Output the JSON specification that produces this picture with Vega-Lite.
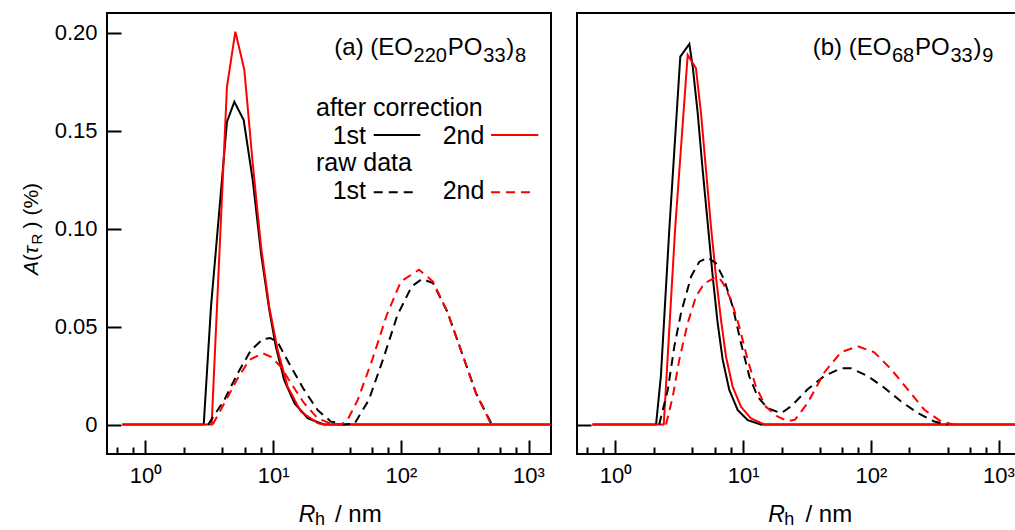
{
  "$schema": "https://vega.github.io/schema/vega-lite/v6.json",
  "padding": {"left": 20, "top": 12, "right": 0, "bottom": 0},
  "bounds": "flush",
  "spacing": 26,
  "config": {
    "font": "Liberation Sans",
    "view": {"stroke": "#000000", "strokeWidth": 2},
    "axis": {"grid": false, "domain": false, "tickColor": "#000000", "tickWidth": 2, "labelColor": "#000000", "labelFont": "Liberation Sans", "labelFontSize": 22, "title": null}
  },
  "datasets": {
    "curves": [
      {"p":"a","s":"s1","x":0.66,"y":0},{"p":"a","s":"s1","x":2.86,"y":0},{"p":"a","s":"s1","x":3.26,"y":0.060},{"p":"a","s":"s1","x":4.35,"y":0.1545},{"p":"a","s":"s1","x":4.97,"y":0.1647},{"p":"a","s":"s1","x":5.88,"y":0.1554},{"p":"a","s":"s1","x":6.92,"y":0.1248},{"p":"a","s":"s1","x":8.04,"y":0.0874},{"p":"a","s":"s1","x":9.33,"y":0.0585},{"p":"a","s":"s1","x":10.5,"y":0.0398},{"p":"a","s":"s1","x":12.2,"y":0.0228},{"p":"a","s":"s1","x":14.7,"y":0.0109},{"p":"a","s":"s1","x":18.7,"y":0.0032},{"p":"a","s":"s1","x":25.2,"y":0},{"p":"a","s":"s1","x":1500,"y":0},
      {"p":"a","s":"s2","x":0.66,"y":0},{"p":"a","s":"s2","x":3.30,"y":0},{"p":"a","s":"s2","x":4.35,"y":0.1724},{"p":"a","s":"s2","x":5.06,"y":0.2005},{"p":"a","s":"s2","x":5.95,"y":0.181},{"p":"a","s":"s2","x":6.92,"y":0.1333},{"p":"a","s":"s2","x":8.04,"y":0.0908},{"p":"a","s":"s2","x":9.33,"y":0.060},{"p":"a","s":"s2","x":10.85,"y":0.038},{"p":"a","s":"s2","x":13.0,"y":0.0193},{"p":"a","s":"s2","x":16.5,"y":0.0066},{"p":"a","s":"s2","x":22.3,"y":0.0008},{"p":"a","s":"s2","x":25,"y":0},{"p":"a","s":"s2","x":1500,"y":0},
      {"p":"a","s":"s3","x":3.1,"y":0},{"p":"a","s":"s3","x":4.15,"y":0.0126},{"p":"a","s":"s3","x":5.28,"y":0.0262},{"p":"a","s":"s3","x":6.71,"y":0.038},{"p":"a","s":"s3","x":8.3,"y":0.0436},{"p":"a","s":"s3","x":9.5,"y":0.0442},{"p":"a","s":"s3","x":10.85,"y":0.042},{"p":"a","s":"s3","x":13.8,"y":0.0295},{"p":"a","s":"s3","x":17.5,"y":0.0177},{"p":"a","s":"s3","x":22.3,"y":0.0074},{"p":"a","s":"s3","x":28.4,"y":0.0015},{"p":"a","s":"s3","x":36,"y":0},{"p":"a","s":"s3","x":43.4,"y":0.0005},{"p":"a","s":"s3","x":56.2,"y":0.0126},{"p":"a","s":"s3","x":72.6,"y":0.0333},{"p":"a","s":"s3","x":94,"y":0.0558},{"p":"a","s":"s3","x":121.7,"y":0.0705},{"p":"a","s":"s3","x":146.5,"y":0.0743},{"p":"a","s":"s3","x":178.6,"y":0.0722},{"p":"a","s":"s3","x":231.6,"y":0.0575},{"p":"a","s":"s3","x":300,"y":0.0368},{"p":"a","s":"s3","x":388,"y":0.016},{"p":"a","s":"s3","x":517,"y":0},
      {"p":"a","s":"s4","x":3.36,"y":0},{"p":"a","s":"s4","x":4.15,"y":0.0109},{"p":"a","s":"s4","x":5.28,"y":0.0236},{"p":"a","s":"s4","x":6.51,"y":0.033},{"p":"a","s":"s4","x":8.28,"y":0.0364},{"p":"a","s":"s4","x":9.62,"y":0.0346},{"p":"a","s":"s4","x":11.5,"y":0.0295},{"p":"a","s":"s4","x":13.8,"y":0.0211},{"p":"a","s":"s4","x":17.5,"y":0.0109},{"p":"a","s":"s4","x":22.3,"y":0.0032},{"p":"a","s":"s4","x":28.4,"y":0.0005},{"p":"a","s":"s4","x":34,"y":0},{"p":"a","s":"s4","x":38,"y":0.002},{"p":"a","s":"s4","x":46,"y":0.0126},{"p":"a","s":"s4","x":59.9,"y":0.0333},{"p":"a","s":"s4","x":77.5,"y":0.0558},{"p":"a","s":"s4","x":100,"y":0.073},{"p":"a","s":"s4","x":139,"y":0.079},{"p":"a","s":"s4","x":178.6,"y":0.073},{"p":"a","s":"s4","x":231.6,"y":0.0575},{"p":"a","s":"s4","x":300,"y":0.0368},{"p":"a","s":"s4","x":388,"y":0.016},{"p":"a","s":"s4","x":502,"y":0.001},{"p":"a","s":"s4","x":530,"y":0},
      {"p":"b","s":"s1","x":0.66,"y":0},{"p":"b","s":"s1","x":2.08,"y":0},{"p":"b","s":"s1","x":2.27,"y":0.0248},{"p":"b","s":"s1","x":2.64,"y":0.0993},{"p":"b","s":"s1","x":3.22,"y":0.1877},{"p":"b","s":"s1","x":3.79,"y":0.1942},{"p":"b","s":"s1","x":4.03,"y":0.1826},{"p":"b","s":"s1","x":4.41,"y":0.1588},{"p":"b","s":"s1","x":4.82,"y":0.1299},{"p":"b","s":"s1","x":5.28,"y":0.1027},{"p":"b","s":"s1","x":5.78,"y":0.0755},{"p":"b","s":"s1","x":6.32,"y":0.0517},{"p":"b","s":"s1","x":6.92,"y":0.033},{"p":"b","s":"s1","x":7.79,"y":0.0177},{"p":"b","s":"s1","x":9.07,"y":0.0074},{"p":"b","s":"s1","x":10.86,"y":0.0023},{"p":"b","s":"s1","x":13.8,"y":0},{"p":"b","s":"s1","x":1500,"y":0},
      {"p":"b","s":"s2","x":0.66,"y":0},{"p":"b","s":"s2","x":2.39,"y":0},{"p":"b","s":"s2","x":2.93,"y":0.0993},{"p":"b","s":"s2","x":3.68,"y":0.1886},{"p":"b","s":"s2","x":4.27,"y":0.1818},{"p":"b","s":"s2","x":4.68,"y":0.1588},{"p":"b","s":"s2","x":5.12,"y":0.1299},{"p":"b","s":"s2","x":5.60,"y":0.101},{"p":"b","s":"s2","x":6.13,"y":0.0755},{"p":"b","s":"s2","x":6.71,"y":0.0534},{"p":"b","s":"s2","x":7.34,"y":0.0347},{"p":"b","s":"s2","x":8.28,"y":0.0193},{"p":"b","s":"s2","x":9.63,"y":0.0091},{"p":"b","s":"s2","x":11.5,"y":0.0032},{"p":"b","s":"s2","x":14.7,"y":0},{"p":"b","s":"s2","x":1500,"y":0},
      {"p":"b","s":"s3","x":2.2,"y":0},{"p":"b","s":"s3","x":2.57,"y":0.0177},{"p":"b","s":"s3","x":2.89,"y":0.0398},{"p":"b","s":"s3","x":3.26,"y":0.0568},{"p":"b","s":"s3","x":3.91,"y":0.0755},{"p":"b","s":"s3","x":4.54,"y":0.0831},{"p":"b","s":"s3","x":5.28,"y":0.0852},{"p":"b","s":"s3","x":6.13,"y":0.0823},{"p":"b","s":"s3","x":7.12,"y":0.0738},{"p":"b","s":"s3","x":8.28,"y":0.0602},{"p":"b","s":"s3","x":9.63,"y":0.0415},{"p":"b","s":"s3","x":11.2,"y":0.0244},{"p":"b","s":"s3","x":13.0,"y":0.0142},{"p":"b","s":"s3","x":15.6,"y":0.0083},{"p":"b","s":"s3","x":19.8,"y":0.0058},{"p":"b","s":"s3","x":23.7,"y":0.0093},{"p":"b","s":"s3","x":32,"y":0.018},{"p":"b","s":"s3","x":43.2,"y":0.0248},{"p":"b","s":"s3","x":58.4,"y":0.0287},{"p":"b","s":"s3","x":70,"y":0.0287},{"p":"b","s":"s3","x":94.5,"y":0.0248},{"p":"b","s":"s3","x":127.5,"y":0.0188},{"p":"b","s":"s3","x":172,"y":0.0119},{"p":"b","s":"s3","x":233,"y":0.0059},{"p":"b","s":"s3","x":314,"y":0.0016},{"p":"b","s":"s3","x":400,"y":0},
      {"p":"b","s":"s4","x":2.49,"y":0},{"p":"b","s":"s4","x":2.81,"y":0.0142},{"p":"b","s":"s4","x":3.16,"y":0.033},{"p":"b","s":"s4","x":3.68,"y":0.0517},{"p":"b","s":"s4","x":4.27,"y":0.0653},{"p":"b","s":"s4","x":4.97,"y":0.0721},{"p":"b","s":"s4","x":5.95,"y":0.0748},{"p":"b","s":"s4","x":6.4,"y":0.0751},{"p":"b","s":"s4","x":6.92,"y":0.0725},{"p":"b","s":"s4","x":8.04,"y":0.0636},{"p":"b","s":"s4","x":9.33,"y":0.05},{"p":"b","s":"s4","x":10.86,"y":0.033},{"p":"b","s":"s4","x":12.6,"y":0.0193},{"p":"b","s":"s4","x":15.1,"y":0.0091},{"p":"b","s":"s4","x":18.7,"y":0.004},{"p":"b","s":"s4","x":22.3,"y":0.0018},{"p":"b","s":"s4","x":25.5,"y":0.0025},{"p":"b","s":"s4","x":32,"y":0.011},{"p":"b","s":"s4","x":43.2,"y":0.0266},{"p":"b","s":"s4","x":58.4,"y":0.0369},{"p":"b","s":"s4","x":78.9,"y":0.04},{"p":"b","s":"s4","x":106.5,"y":0.0369},{"p":"b","s":"s4","x":143.8,"y":0.0283},{"p":"b","s":"s4","x":194.4,"y":0.018},{"p":"b","s":"s4","x":262.5,"y":0.0076},{"p":"b","s":"s4","x":354.6,"y":0.0016},{"p":"b","s":"s4","x":450,"y":0}
    ],
    "legend": [
      {"s":"s1","x":61.35,"x2":142.1,"y":0.1478},
      {"s":"s2","x":508.6,"x2":1193,"y":0.1478},
      {"s":"s3","x":61.35,"x2":123.9,"y":0.1185},
      {"s":"s4","x":508.6,"x2":1027,"y":0.1185}
    ],
    "ann": [
      {"p":"a","k":"main","t":"(a) (EO","x":30.13,"y":0.1886},
      {"p":"a","k":"sub","t":"220","x":125.7,"y":0.185},
      {"p":"a","k":"main","t":"PO","x":233.3,"y":0.1886},
      {"p":"a","k":"sub","t":"33","x":442.6,"y":0.185},
      {"p":"a","k":"main","t":")","x":670,"y":0.1886},
      {"p":"a","k":"sub","t":"8","x":784,"y":0.185},
      {"p":"a","k":"leg","t":"after correction","x":21.67,"y":0.1575},
      {"p":"a","k":"leg","t":"1st","x":29.28,"y":0.1434},
      {"p":"a","k":"leg","t":"2nd","x":212.8,"y":0.1434},
      {"p":"a","k":"leg","t":"raw data","x":21.67,"y":0.1295},
      {"p":"a","k":"leg","t":"1st","x":29.28,"y":0.1151},
      {"p":"a","k":"leg","t":"2nd","x":212.8,"y":0.1151},
      {"p":"a","k":"ital","t":"R","x":15.9,"y":-0.0497},
      {"p":"a","k":"xsub","t":"h","x":21.3,"y":-0.0512},
      {"p":"a","k":"main","t":"/ nm","x":30.5,"y":-0.0497},
      {"p":"a","k":"yi","t":"A","x":0.1441,"y":0.0763},
      {"p":"a","k":"ym","t":"(","x":0.1441,"y":0.0835},
      {"p":"a","k":"yi","t":"τ","x":0.1441,"y":0.087},
      {"p":"a","k":"ys","t":"R","x":0.1549,"y":0.0919},
      {"p":"a","k":"ym","t":") (%)","x":0.1441,"y":0.1001},
      {"p":"b","k":"main","t":"(b) (EO","x":35.1,"y":0.1886},
      {"p":"b","k":"sub","t":"68","x":146.5,"y":0.185},
      {"p":"b","k":"main","t":"PO","x":221.8,"y":0.1886},
      {"p":"b","k":"sub","t":"33","x":420.7,"y":0.185},
      {"p":"b","k":"main","t":")","x":637.1,"y":0.1886},
      {"p":"b","k":"sub","t":"9","x":746.7,"y":0.185},
      {"p":"b","k":"ital","t":"R","x":15.7,"y":-0.0497},
      {"p":"b","k":"xsub","t":"h","x":21.0,"y":-0.0512},
      {"p":"b","k":"main","t":"/ nm","x":30.8,"y":-0.0497}
    ]
  },
  "hconcat": [
    {
      "width": 444,
      "height": 441,
      "encoding": {
        "x": {"field": "x", "type": "quantitative", "scale": {"type": "log", "domain": [0.5, 1500], "nice": false},
          "axis": {"values": [0.6,0.8,1,2,4,6,8,10,20,40,60,80,100,200,400,600,800,1000],
            "tickSize": {"condition": {"test": "datum.value==1||datum.value==10||datum.value==100||datum.value==1000", "value": -14}, "value": -7},
            "labelExpr": "datum.value==1?'10⁰':datum.value==10?'10¹':datum.value==100?'10²':datum.value==1000?'10³':''",
            "labelPadding": 25, "labelFlush": false, "labelOverlap": false, "labelBound": false}},
        "y": {"field": "y", "type": "quantitative", "scale": {"domain": [-0.015, 0.21], "nice": false, "zero": false},
          "axis": {"values": [0, 0.05, 0.1, 0.15, 0.2], "tickSize": -14, "labelPadding": 24,
            "labelExpr": "datum.value==0?'0':format(datum.value,'.2f')", "labelOverlap": false, "labelFlush": false}}
      },
      "layer": [
        {"data": {"name": "curves"}, "transform": [{"filter": "datum.p=='a'"}],
          "mark": {"type": "line", "strokeWidth": 2},
          "encoding": {
            "color": {"field": "s", "type": "nominal", "scale": {"domain": ["s1","s2","s3","s4"], "range": ["#000000","#ff0000","#000000","#ff0000"]}, "legend": null},
            "strokeDash": {"field": "s", "type": "nominal", "scale": {"domain": ["s1","s2","s3","s4"], "range": [[1,0],[1,0],[9,6],[9,6]]}, "legend": null}
          }},
        {"data": {"name": "legend"},
          "mark": {"type": "rule", "strokeWidth": 2},
          "encoding": {
            "x2": {"field": "x2"},
            "color": {"field": "s", "type": "nominal", "legend": null},
            "strokeDash": {"field": "s", "type": "nominal", "legend": null}
          }},
        {"data": {"name": "ann"}, "transform": [{"filter": "datum.p=='a' && datum.k=='main'"}],
          "mark": {"type": "text", "align": "left", "baseline": "alphabetic", "fontSize": 24, "font": "Liberation Sans", "color": "#000000"},
          "encoding": {"text": {"field": "t"}}},
        {"data": {"name": "ann"}, "transform": [{"filter": "datum.p=='a' && datum.k=='sub'"}],
          "mark": {"type": "text", "align": "left", "baseline": "alphabetic", "fontSize": 20, "font": "Liberation Sans", "color": "#000000"},
          "encoding": {"text": {"field": "t"}}},
        {"data": {"name": "ann"}, "transform": [{"filter": "datum.p=='a' && datum.k=='xsub'"}],
          "mark": {"type": "text", "align": "left", "baseline": "alphabetic", "fontSize": 18, "font": "Liberation Sans", "color": "#000000"},
          "encoding": {"text": {"field": "t"}}},
        {"data": {"name": "ann"}, "transform": [{"filter": "datum.p=='a' && datum.k=='ital'"}],
          "mark": {"type": "text", "align": "left", "baseline": "alphabetic", "fontSize": 23, "fontStyle": "italic", "font": "Liberation Sans", "color": "#000000"},
          "encoding": {"text": {"field": "t"}}},
        {"data": {"name": "ann"}, "transform": [{"filter": "datum.p=='a' && datum.k=='leg'"}],
          "mark": {"type": "text", "align": "left", "baseline": "alphabetic", "fontSize": 25, "font": "Liberation Sans", "color": "#000000"},
          "encoding": {"text": {"field": "t"}}},
        {"data": {"name": "ann"}, "transform": [{"filter": "datum.p=='a' && datum.k=='yi'"}],
          "mark": {"type": "text", "align": "left", "baseline": "alphabetic", "angle": 270, "fontSize": 21, "fontStyle": "italic", "font": "Liberation Sans", "color": "#000000"},
          "encoding": {"text": {"field": "t"}}},
        {"data": {"name": "ann"}, "transform": [{"filter": "datum.p=='a' && datum.k=='ym'"}],
          "mark": {"type": "text", "align": "left", "baseline": "alphabetic", "angle": 270, "fontSize": 21, "font": "Liberation Sans", "color": "#000000"},
          "encoding": {"text": {"field": "t"}}},
        {"data": {"name": "ann"}, "transform": [{"filter": "datum.p=='a' && datum.k=='ys'"}],
          "mark": {"type": "text", "align": "left", "baseline": "alphabetic", "angle": 270, "fontSize": 15, "font": "Liberation Sans", "color": "#000000"},
          "encoding": {"text": {"field": "t"}}}
      ]
    },
    {
      "width": 444,
      "height": 441,
      "encoding": {
        "x": {"field": "x", "type": "quantitative", "scale": {"type": "log", "domain": [0.5, 1500], "nice": false},
          "axis": {"values": [0.6,0.8,1,2,4,6,8,10,20,40,60,80,100,200,400,600,800,1000],
            "tickSize": {"condition": {"test": "datum.value==1||datum.value==10||datum.value==100||datum.value==1000", "value": -14}, "value": -7},
            "labelExpr": "datum.value==1?'10⁰':datum.value==10?'10¹':datum.value==100?'10²':datum.value==1000?'10³':''",
            "labelPadding": 25, "labelFlush": false, "labelOverlap": false, "labelBound": false}},
        "y": {"field": "y", "type": "quantitative", "scale": {"domain": [-0.015, 0.21], "nice": false, "zero": false},
          "axis": {"values": [0], "tickSize": -14, "labels": false}}
      },
      "layer": [
        {"data": {"name": "curves"}, "transform": [{"filter": "datum.p=='b'"}],
          "mark": {"type": "line", "strokeWidth": 2},
          "encoding": {
            "color": {"field": "s", "type": "nominal", "scale": {"domain": ["s1","s2","s3","s4"], "range": ["#000000","#ff0000","#000000","#ff0000"]}, "legend": null},
            "strokeDash": {"field": "s", "type": "nominal", "scale": {"domain": ["s1","s2","s3","s4"], "range": [[1,0],[1,0],[9,6],[9,6]]}, "legend": null}
          }},
        {"data": {"name": "ann"}, "transform": [{"filter": "datum.p=='b' && datum.k=='main'"}],
          "mark": {"type": "text", "align": "left", "baseline": "alphabetic", "fontSize": 24, "font": "Liberation Sans", "color": "#000000"},
          "encoding": {"text": {"field": "t"}}},
        {"data": {"name": "ann"}, "transform": [{"filter": "datum.p=='b' && datum.k=='sub'"}],
          "mark": {"type": "text", "align": "left", "baseline": "alphabetic", "fontSize": 20, "font": "Liberation Sans", "color": "#000000"},
          "encoding": {"text": {"field": "t"}}},
        {"data": {"name": "ann"}, "transform": [{"filter": "datum.p=='b' && datum.k=='xsub'"}],
          "mark": {"type": "text", "align": "left", "baseline": "alphabetic", "fontSize": 18, "font": "Liberation Sans", "color": "#000000"},
          "encoding": {"text": {"field": "t"}}},
        {"data": {"name": "ann"}, "transform": [{"filter": "datum.p=='b' && datum.k=='ital'"}],
          "mark": {"type": "text", "align": "left", "baseline": "alphabetic", "fontSize": 23, "fontStyle": "italic", "font": "Liberation Sans", "color": "#000000"},
          "encoding": {"text": {"field": "t"}}}
      ]
    }
  ]
}
